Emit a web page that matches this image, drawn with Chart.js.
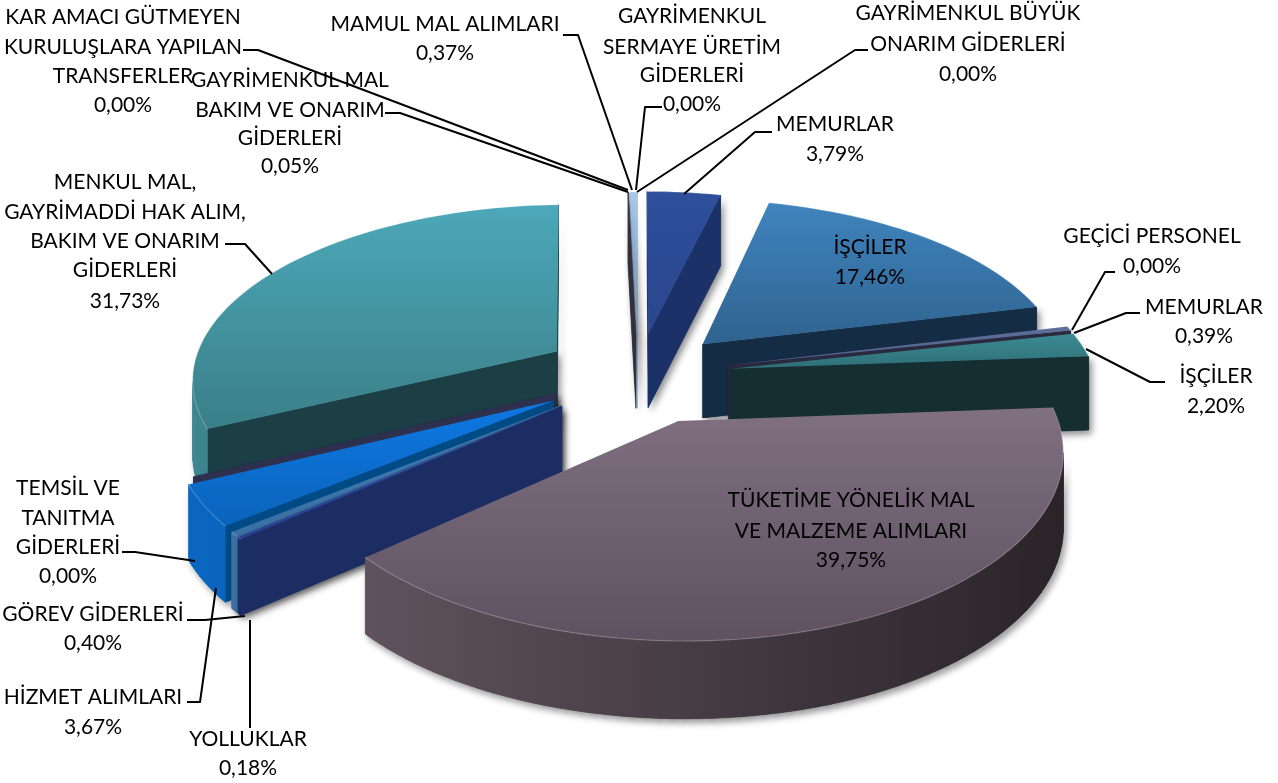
<!DOCTYPE html>
<html><head><meta charset="utf-8">
<style>html,body{margin:0;padding:0;background:#fff}#w{width:1278px;height:783px;position:relative}</style>
<script src="https://cdn.jsdelivr.net/npm/chart.js@4/dist/chart.umd.min.js"></script>
</head><body><div id="w"><canvas id="c" width="1278" height="783"></canvas></div>
<script>
const categories = ["MEMURLAR","İŞÇİLER","GEÇİCİ PERSONEL","MEMURLAR","İŞÇİLER","TÜKETİME YÖNELİK MAL VE MALZEME ALIMLARI","YOLLUKLAR","GÖREV GİDERLERİ","HİZMET ALIMLARI","TEMSİL VE TANITMA GİDERLERİ","MENKUL MAL, GAYRİMADDİ HAK ALIM, BAKIM VE ONARIM GİDERLERİ","GAYRİMENKUL MAL BAKIM VE ONARIM GİDERLERİ","KAR AMACI GÜTMEYEN KURULUŞLARA YAPILAN TRANSFERLER","MAMUL MAL ALIMLARI","GAYRİMENKUL SERMAYE ÜRETİM GİDERLERİ","GAYRİMENKUL BÜYÜK ONARIM GİDERLERİ"];
const values = [3.79,17.46,0,0.39,2.20,39.75,0.18,0.40,3.67,0,31.73,0.05,0,0.37,0,0];
const explode = [84,88,88,88,88,95,92,92,92,84,91,82,82,82,82,82];
const topTop = ["#2e4f9c","#3f84bd","#5a6a95","#5f6f9c","#3b8b92","#807082","#3448a0","#3f7bb0","#0e78e2","#33344d","#4ca8b9","#3a3a50","#3a3a50","#a9c9ea","#a9c9ea","#a9c9ea"];
const topBottom = ["#2a458c","#2f6390","#4a5a85","#4f5f8c","#2f6f78","#5e5160","#2c3e90","#3a70a4","#0a64bc","#33344d","#3a7f88","#3a3a50","#3a3a50","#9bbce0","#9bbce0","#9bbce0"];
const cutWall = ["#1d3169","#142c44",null,"#2a2a3f","#152e32","#4a3f47","#1b2d62","#2f5f90","#004a86","#2e3050","#1c3f45","#33303c",null,"#8fa9c6",null,null];
const rimLeft = ["#1d3169","#16304a",null,"#2a2a3f","#1a3a3e","#5f525c","#1b2d62","#3a70a4","#0a66c0","#2e3050","#3d8590","#33303c",null,"#8fa9c6",null,null];
const rimRight = ["#243c78","#16304a",null,"#2a2a3f","#1a3a3e","#2a2429","#1b2d62","#3a70a4","#0657a4","#2e3050","#3a7f88","#33303c",null,"#8fa9c6",null,null];
const labelLines = [
 ["MEMURLAR","3,79%"],["İŞÇİLER","17,46%"],["GEÇİCİ PERSONEL","0,00%"],["MEMURLAR","0,39%"],["İŞÇİLER","2,20%"],
 ["TÜKETİME YÖNELİK MAL","VE MALZEME ALIMLARI","39,75%"],["YOLLUKLAR","0,18%"],["GÖREV GİDERLERİ","0,40%"],["HİZMET ALIMLARI","3,67%"],
 ["TEMSİL VE","TANITMA","GİDERLERİ","0,00%"],["MENKUL MAL,","GAYRİMADDİ HAK ALIM,","BAKIM VE ONARIM","GİDERLERİ","31,73%"],
 ["GAYRİMENKUL MAL","BAKIM VE ONARIM","GİDERLERİ","0,05%"],["KAR AMACI GÜTMEYEN","KURULUŞLARA YAPILAN","TRANSFERLER","0,00%"],
 ["MAMUL MAL ALIMLARI","0,37%"],["GAYRİMENKUL","SERMAYE ÜRETİM","GİDERLERİ","0,00%"],["GAYRİMENKUL BÜYÜK","ONARIM GİDERLERİ","0,00%"]];
const labelX = [835,870,1152,1204,1216,851,248,93,93,68,125,290,123,445,692,968];
const labelY = [[124,154],[247,277],[236,266],[307,336],[376,406],[500,531,560],[739,768],[614,643],[697,727],[488,518,547,576],[182,212,241,270,301],[80,110,138,166],[17,47,76,105],[24,53],[16,47,75,104],[13,44,74]];
const leaders = [
 [[772,132],[755,132],[684,194]],[],[[1115,272],[1105,272],[1072,330]],[[1140,313],[1126,313],[1074,333]],[[1165,382],[1150,382],[1086,349]],[],
 [[250,728],[250,620]],[[187,620],[205,620],[245,616]],[[187,702],[200,702],[216,588]],[[122,552],[135,552],[195,561]],[[225,244],[245,244],[272,274]],
 [[385,113],[400,113],[628,192]],[[243,50],[258,50],[628,190]],[[563,35],[578,35],[632,190]],[[662,107],[645,107],[636,190]],[[868,50],[855,50],[637,192]]];

const CX=638, CY=375, RX=366, RY=174, F=7, DEPTH=74;
const proj=(u,v,h=0)=>{const s=1/(1+v/F);return [CX+u*s*RX, CY-v*s*RY+h*DEPTH*Math.pow(s,0.25)];};

const pie3d={id:'pie3d',
 beforeDatasetDraw(chart){
  const ctx=chart.ctx, arcs=chart.getDatasetMeta(0).data;
  const items=arcs.map((a,i)=>{
    const R=a.outerRadius, off=a.options.offset||explode[i], mid=(a.startAngle+a.endAngle)/2;
    const ox=Math.cos(mid)*off/R, oy=-Math.sin(mid)*off/R;
    const n=Math.max(2,Math.ceil((a.endAngle-a.startAngle)/0.03));
    const rim=[];
    for(let k=0;k<=n;k++){const t=a.startAngle+(a.endAngle-a.startAngle)*k/n;rim.push([ox+Math.cos(t),oy-Math.sin(t)]);}
    return {i,apex:[ox,oy],rim,order:oy-Math.sin(mid)*0.5,zero:values[i]===0};
  }).sort((p,q)=>q.order-p.order);
  const quad=(a,b)=>{const A=proj(a[0],a[1]),B=proj(b[0],b[1]),C=proj(b[0],b[1],1),D=proj(a[0],a[1],1);
    ctx.beginPath();ctx.moveTo(A[0],A[1]);ctx.lineTo(B[0],B[1]);ctx.lineTo(C[0],C[1]);ctx.lineTo(D[0],D[1]);ctx.closePath();};
  items.forEach(it=>{
    const i=it.i, pts=[it.apex,...it.rim];
    if(it.zero && !cutWall[i]) return;
    const P=pts.map(p=>proj(p[0],p[1]));
    const xs=P.map(p=>p[0]), ys=P.map(p=>p[1]);
    const minX=Math.min(...xs),maxX=Math.max(...xs),minY=Math.min(...ys),maxY=Math.max(...ys);
    const g=ctx.createLinearGradient(minX,0,maxX,0);
    g.addColorStop(0,rimLeft[i]);g.addColorStop(1,rimRight[i]);
    const drawWalls=(shadow)=>{
      for(let k=0;k<pts.length;k++){
        const a=pts[k], b=pts[(k+1)%pts.length];
        const facing=proj(a[0],a[1])[0]>proj(b[0],b[1])[0];
        if(!facing && !(it.zero)) continue;
        quad(a,b);
        const isCut=(k===0||k===pts.length-1);
        ctx.fillStyle=isCut?cutWall[i]:g; ctx.strokeStyle=ctx.fillStyle; ctx.lineWidth=0.6;
        if(shadow){ctx.shadowColor='rgba(0,0,0,.45)';ctx.shadowBlur=7;ctx.shadowOffsetX=3;ctx.shadowOffsetY=4;}
        ctx.fill(); if(!shadow) ctx.stroke();
        ctx.shadowColor='transparent';ctx.shadowBlur=0;ctx.shadowOffsetX=0;ctx.shadowOffsetY=0;
      }
    };
    drawWalls(true); drawWalls(false);
    if(it.zero) return;
    const tg=ctx.createLinearGradient(0,minY,0,maxY);
    tg.addColorStop(0,topTop[i]);tg.addColorStop(1,topBottom[i]);
    ctx.beginPath();P.forEach((p,k)=>k?ctx.lineTo(p[0],p[1]):ctx.moveTo(p[0],p[1]));ctx.closePath();
    ctx.fillStyle=tg;ctx.fill();
    ctx.beginPath();P.slice(1).forEach((p,k)=>k?ctx.lineTo(p[0],p[1]):ctx.moveTo(p[0],p[1]));
    ctx.strokeStyle='rgba(255,255,255,.22)';ctx.lineWidth=1.2;ctx.stroke();
  });
  return false;
 },
 afterDatasetsDraw(chart){
  const ctx=chart.ctx;
  ctx.save();
  ctx.strokeStyle='#000';ctx.lineWidth=2;ctx.lineJoin='round';
  leaders.forEach(l=>{if(!l.length)return;ctx.beginPath();l.forEach((p,k)=>k?ctx.lineTo(p[0],p[1]):ctx.moveTo(p[0],p[1]));ctx.stroke();});
  ctx.fillStyle='#000';ctx.font='21px Lato';ctx.textAlign='center';ctx.textBaseline='middle';
  labelLines.forEach((ls,i)=>ls.forEach((t,k)=>ctx.fillText(t,labelX[i],labelY[i][k])));
  ctx.restore();
 }};

new Chart(document.getElementById('c'),{
 type:'pie',
 data:{labels:categories,datasets:[{data:values,offset:explode,borderWidth:0,backgroundColor:topTop}]},
 options:{responsive:false,animation:false,events:[],layout:{padding:0},
  plugins:{legend:{display:false},tooltip:{enabled:false},title:{display:false}}},
 plugins:[pie3d]
});
</script></body></html>
